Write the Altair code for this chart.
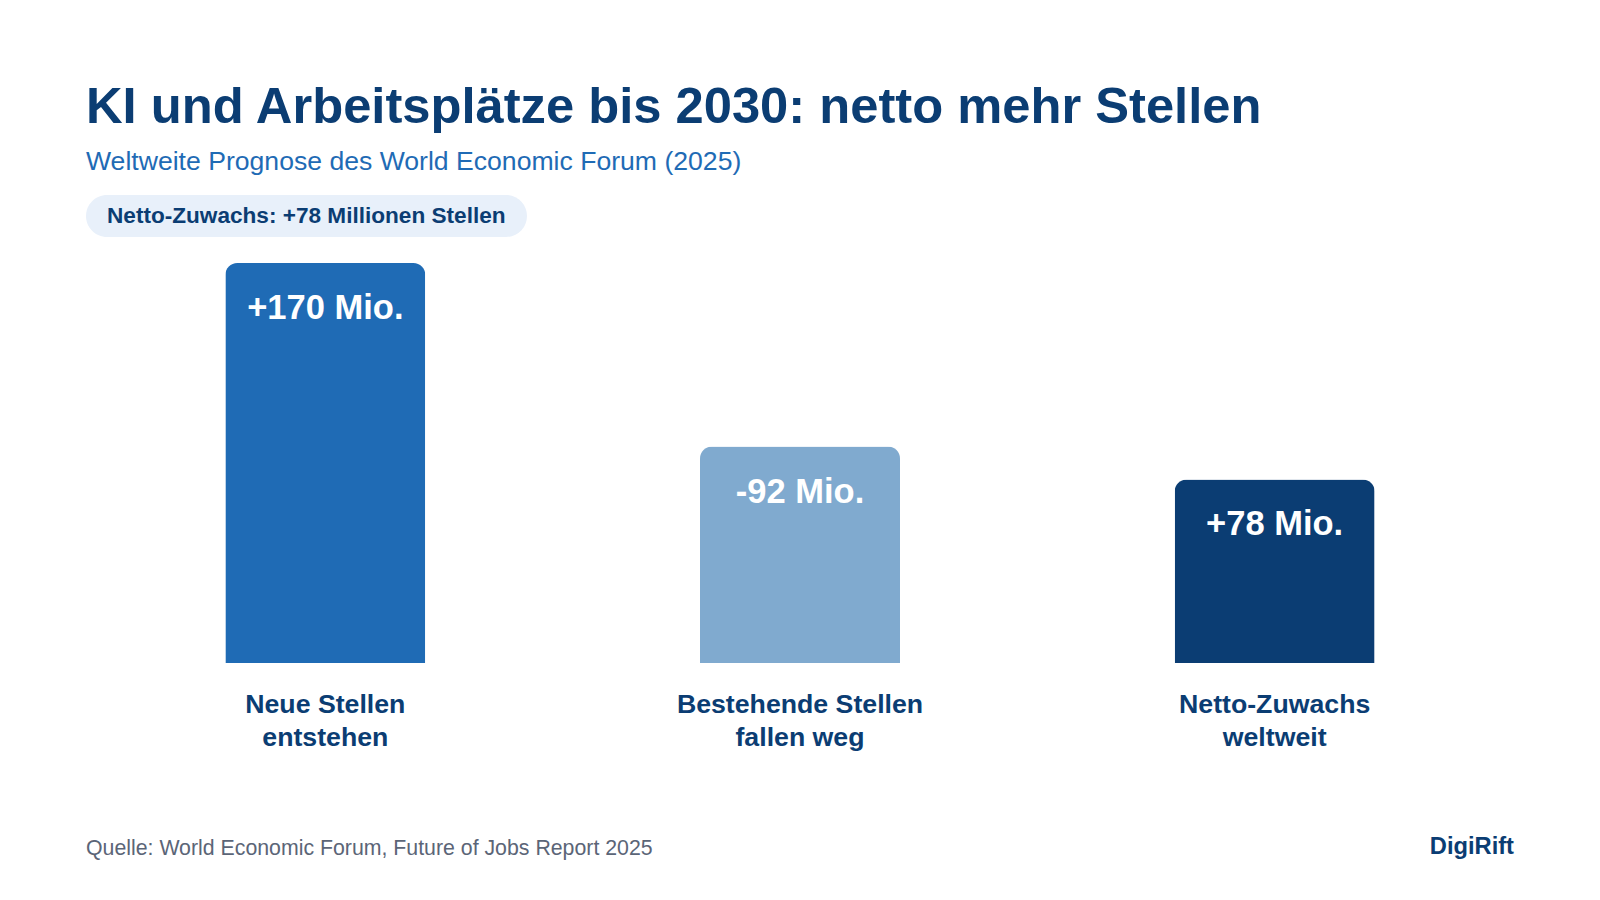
import altair as alt
import pandas as pd

# ---- data ----
categories = ["Neue Stellen\nentstehen", "Bestehende Stellen\nfallen weg", "Netto-Zuwachs\nweltweit"]
values = [170, 92, 78]
value_labels = ["+170 Mio.", "-92 Mio.", "+78 Mio."]
bar_colors = ["#1f6bb5", "#80aacf", "#0b3d73"]

title_text = "KI und Arbeitsplätze bis 2030: netto mehr Stellen"
subtitle_text = "Weltweite Prognose des World Economic Forum (2025)"
badge_text = "Netto-Zuwachs: +78 Millionen Stellen"
source_text = "Quelle: World Economic Forum, Future of Jobs Report 2025"
brand_text = "DigiRift"

NAVY = "#0b3d73"
FONT = "Liberation Sans"

df = pd.DataFrame({"cat": categories, "val": values, "lab": value_labels})

xscale = alt.Scale(domain=categories, range=[88, 1512], paddingInner=0, paddingOuter=0)
yscale = alt.Scale(domain=[0, 170], range=[663, 263], nice=False, zero=True)

base = alt.Chart(df)

bars = base.mark_bar(width=200, cornerRadiusTopLeft=12, cornerRadiusTopRight=12).encode(
    x=alt.X("cat:N", scale=xscale, axis=None, sort=categories),
    y=alt.Y("val:Q", scale=yscale, axis=None),
    color=alt.Color("cat:N", scale=alt.Scale(domain=categories, range=bar_colors), legend=None),
)

bar_text = base.mark_text(font=FONT, fontSize=34.5, fontWeight="bold", color="white",
                          baseline="alphabetic", dy=56).encode(
    x=alt.X("cat:N", scale=xscale, axis=None, sort=categories),
    y=alt.Y("val:Q", scale=yscale, axis=None),
    text="lab:N",
)

cat_text = base.mark_text(font=FONT, fontSize=26.7, fontWeight="bold", color=NAVY,
                          baseline="alphabetic", lineBreak="\n", lineHeight=33).encode(
    x=alt.X("cat:N", scale=xscale, axis=None, sort=categories),
    y=alt.value(713),
    text="cat:N",
)

def label(text, x, y, size, color, weight="normal", align="left", baseline="alphabetic"):
    return alt.Chart(pd.DataFrame({"t": [text]})).mark_text(
        font=FONT, fontSize=size, fontWeight=weight, color=color, align=align, baseline=baseline
    ).encode(x=alt.value(x), y=alt.value(y), text="t:N")

badge_bg = alt.Chart(pd.DataFrame({"t": [badge_text]})).mark_rect(
    color="#e8f0fa", cornerRadius=21
).encode(x=alt.value(86), x2=alt.value(527), y=alt.value(195), y2=alt.value(237))

chart = alt.layer(
    badge_bg,
    bars,
    bar_text,
    cat_text,
    label(title_text, 86, 123, 50.7, NAVY, "bold"),
    label(subtitle_text, 86, 170, 26.6, "#1f6bb5"),
    label(badge_text, 107, 216, 22.6, NAVY, "bold", baseline="middle"),
    label(source_text, 86, 855, 21.3, "#5b6577"),
    label(brand_text, 1514, 854, 23.7, NAVY, "bold", align="right"),
).properties(
    width=1600, height=900, padding=0, autosize=alt.AutoSizeParams(type="none"),
    background="white",
).configure_view(stroke=None)

chart.save("out.html", embed_options={"renderer": "svg", "actions": False})
